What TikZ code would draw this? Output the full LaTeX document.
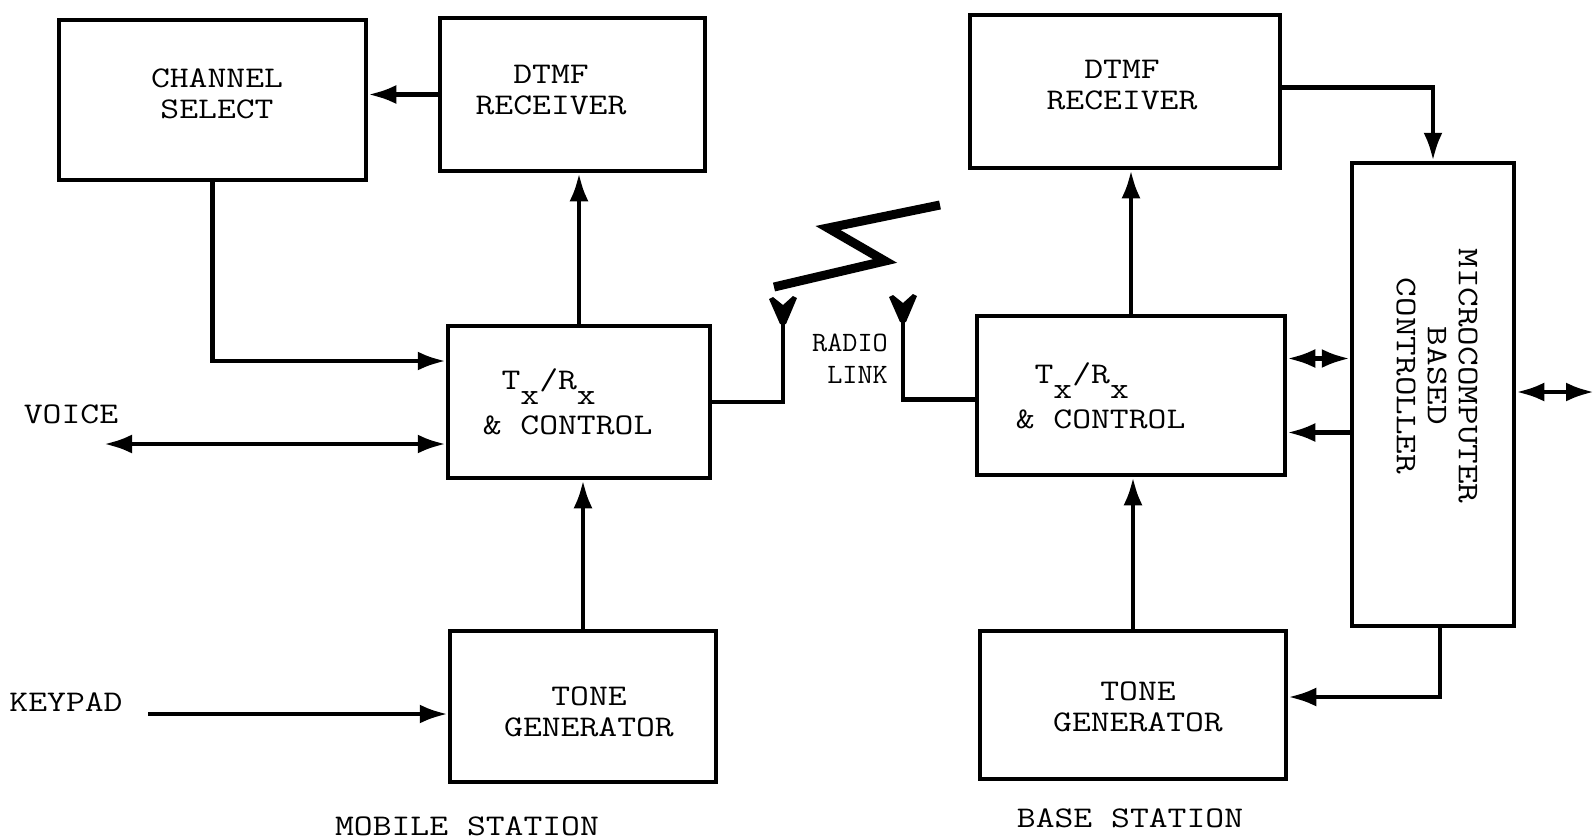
\documentclass[tikz,border=0pt]{standalone}
\usepackage{fontspec}
\usetikzlibrary{arrows.meta,calc}
\begin{document}
\begin{tikzpicture}[x=1pt,y=-1pt,line width=4.5pt,
  font=\ttfamily\fontsize{30}{31}\selectfont,
  blk/.style={draw,line width=4.5pt,inner sep=0pt},
  txt/.style={inner sep=0pt,align=center,xscale=1.22,transform shape},
  arr/.style={-{Latex[length=28pt,width=19pt]}},
  darr/.style={{Latex[length=28pt,width=19pt]}-{Latex[length=28pt,width=19pt]}},
  lbl/.style={inner sep=0pt,xscale=1.22,transform shape},
  antenna/.pic={\fill (-14,1) -- (-10,-1) -- (0,7) -- (10,-2) -- (14,0) -- (3,26) -- (-3,26) -- cycle;}]
\useasboundingbox (0,0) rectangle (1596,839);
% mobile station
\node[blk,minimum width=307pt,minimum height=160pt] (chsel) at (212.5,100) {};
\node[txt] (chselt) at (217,94) {CHANNEL\\SELECT};
\node[blk,minimum width=265pt,minimum height=153pt] (mdtmf) at (572.5,94.5) {};
\node[txt] (mdtmft) at (551,90) {DTMF\\RECEIVER};
\node[blk,minimum width=262pt,minimum height=152pt] (mtx) at (579,402) {};
\node[txt,align=left,anchor=west] (mtxt) at (480,402) {~T\raisebox{-0.5em}{x}/R\raisebox{-0.5em}{x}\\[10pt]\& CONTROL};
\node[blk,minimum width=266pt,minimum height=151pt] (mtone) at (583,706.5) {};
\node[txt] (mtonet) at (589,712) {TONE\\GENERATOR};
% base station
\node[blk,minimum width=310pt,minimum height=153pt] (bdtmf) at (1125,91.5) {};
\node[txt] (bdtmft) at (1122,85) {DTMF\\RECEIVER};
\node[blk,minimum width=308pt,minimum height=159pt] (btx) at (1131,395.5) {};
\node[txt,align=left,anchor=west] (btxt) at (1013,396) {~T\raisebox{-0.5em}{x}/R\raisebox{-0.5em}{x}\\[10pt]\& CONTROL};
\node[blk,minimum width=306pt,minimum height=148pt] (btone) at (1133,705) {};
\node[txt] (btonet) at (1138,707) {TONE\\GENERATOR};
\node[blk,minimum width=162pt,minimum height=463pt] (ctrl) at (1433,394.5) {};
\node[inner sep=0pt,align=center,rotate=-90,xscale=1.27,transform shape] (ctrltxt) at (1437,376) {MICROCOMPUTER\\BASED\\CONTROLLER};
% labels
\node[lbl] (voice) at (71,414) {VOICE};
\node[lbl] (keypad) at (66,702) {KEYPAD};
\node[lbl] (mobile) at (467,826) {MOBILE STATION};
\node[lbl] (base) at (1130,818) {BASE STATION};
\node[inner sep=0pt,align=right,xscale=1.05,transform shape,font=\ttfamily\fontsize{28}{32}\selectfont] (radio) at (850,359) {RADIO\\LINK};
% free ends
\coordinate (voiceend) at (104,444);
\coordinate (keyend) at (148,714);
\coordinate (extend) at (1594,392);
\coordinate (antL) at (783,322);
\coordinate (antR) at (903,320);
% antennas
\pic at (783,298) {antenna};
\pic at (903,296) {antenna};
% lightning
\draw[line width=9pt,miter limit=10] (774,287) -- (885,261) -- (828,228) -- (940,205);
% mobile connectors
\draw[arr] (mdtmf.west) -- (mdtmf.west -| chsel.east);
\draw[arr] (chsel.south) |- ([yshift=41pt]mtx.west);
\draw[arr] (mtx.north) -- (mtx.north |- mdtmf.south);
\draw[darr] (voiceend) -- ([yshift=-42pt]mtx.west);
\draw[arr] (mtone.north) -- (mtone.north |- mtx.south);
\draw[arr] (keyend) -- (keyend -| mtone.west);
\draw (mtx.east) -| (antL);
% base connectors
\draw ([yshift=-4pt]btx.west) -| (antR);
\draw[arr] (btx.north) -- (btx.north |- bdtmf.south);
\draw[arr] (btone.north) -- (btone.north |- btx.south);
\draw[arr] ([yshift=4pt]bdtmf.east) -| (ctrl.north);
\draw[darr] ([yshift=37pt]btx.east) -- ([yshift=37pt]btx.east -| ctrl.west);
\draw[arr] ([yshift=-37pt]btx.east -| ctrl.west) -- ([yshift=-37pt]btx.east);
\draw[darr] (ctrl.east |- extend) -- (extend);
\draw[arr] ([xshift=7pt]ctrl.south) |- ([yshift=8pt]btone.east);
\end{tikzpicture}
\end{document}
